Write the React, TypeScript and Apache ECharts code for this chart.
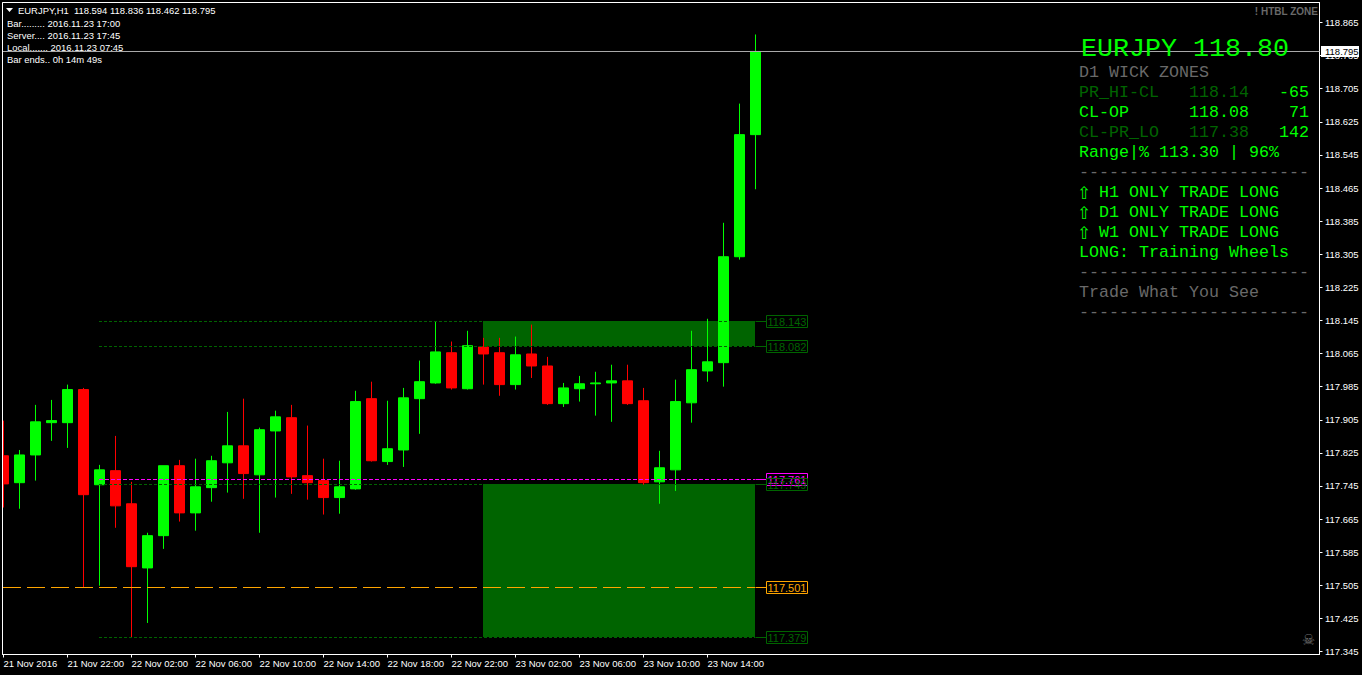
import React, { useEffect, useRef } from "react";
import * as echarts from "echarts";

// open, close, low, high of each hourly bar
const opens = [117.818,117.753,117.820,117.898,117.898,117.978,117.748,117.782,117.702,117.547,117.625,117.794,117.680,117.741,117.801,117.842,117.772,117.878,117.910,117.770,117.758,117.717,117.738,117.956,117.804,117.832,117.956,117.994,118.067,117.980,118.081,118.067,117.990,118.064,118.035,117.944,117.980,117.992,117.994,117.999,117.951,117.755,117.784,117.946,118.023,118.043,118.299,118.594];
const closes = [117.750,117.820,117.900,117.903,117.978,117.724,117.784,117.697,117.550,117.625,117.794,117.680,117.743,117.806,117.842,117.775,117.881,117.912,117.767,117.753,117.717,117.743,117.949,117.806,117.835,117.958,117.997,118.069,117.982,118.084,118.064,117.990,118.062,118.035,117.944,117.982,117.992,117.994,117.999,117.944,117.753,117.789,117.949,118.026,118.045,118.299,118.594,118.795];
const lows = [117.693,117.690,117.758,117.854,117.837,117.501,117.504,117.644,117.380,117.414,117.593,117.659,117.637,117.707,117.729,117.714,117.632,117.717,117.726,117.712,117.676,117.678,117.736,117.804,117.796,117.791,117.871,117.992,117.978,117.978,117.990,117.963,117.978,118.006,117.941,117.936,117.949,117.915,117.900,117.941,117.748,117.702,117.733,117.898,117.997,117.985,118.292,118.462];
const highs = [117.903,117.832,117.941,117.953,117.990,117.982,117.796,117.866,117.755,117.632,117.794,117.808,117.811,117.818,117.924,117.956,117.886,117.927,117.941,117.891,117.811,117.806,117.975,117.997,117.951,117.982,118.048,118.142,118.094,118.120,118.103,118.103,118.106,118.135,118.057,117.994,118.011,118.021,118.038,118.038,117.982,117.830,118.002,118.120,118.149,118.381,118.669,118.836];

const priceTicks = [117.345,117.425,117.505,117.585,117.665,117.745,117.825,117.905,117.985,118.065,118.145,118.225,118.305,118.385,118.465,118.545,118.625,118.705,118.785,118.865];
const timeTicks = [0,4,8,12,16,20,24,28,32,36,40,44];
const timeLabels = ["21 Nov 2016","21 Nov 22:00","22 Nov 02:00","22 Nov 06:00","22 Nov 10:00","22 Nov 14:00","22 Nov 18:00","22 Nov 22:00","23 Nov 02:00","23 Nov 06:00","23 Nov 10:00","23 Nov 14:00"];

const zoneFrom = 30;
const zoneTo = 47;
const zoneTops = [118.143, 117.749];
const zoneBottoms = [118.082, 117.379];

const levelValues = [118.143, 118.082, 117.761, 117.749, 117.501, 117.379];
const levelLabels = ["118.143", "118.082", "117.761", "117.749", "117.501", "117.379"];
const levelStarts = [6, 6, 6, 6, 0, 6];

const lastPrice = 118.795;
const lastPriceLabel = "118.795";

const headerLines = [
  "Bar......... 2016.11.23 17:00",
  "Server.... 2016.11.23 17:45",
  "Local....... 2016.11.23 07:45",
  "Bar ends.. 0h 14m 49s",
];
const headerTitle = "EURJPY,H1  118.594 118.836 118.462 118.795";
const zoneTag = "! HTBL ZONE";
const panelTitle = "EURJPY 118.80";
const panelRows = [
  { a: "D1 WICK ZONES", c: "#696969" },
  { a: "PR_HI-CL", b: "118.14", d: "-65", c: "#006400", e: "#00ff00" },
  { a: "CL-OP", b: "118.08", d: "71", c: "#00ff00", e: "#00ff00" },
  { a: "CL-PR_LO", b: "117.38", d: "142", c: "#006400", e: "#00ff00" },
  { a: "Range|% 113.30 | 96%", c: "#00ff00" },
  { a: "-----------------------", c: "#696969" },
  { a: "H1 ONLY TRADE LONG", c: "#00ff00", arrow: true },
  { a: "D1 ONLY TRADE LONG", c: "#00ff00", arrow: true },
  { a: "W1 ONLY TRADE LONG", c: "#00ff00", arrow: true },
  { a: "LONG: Training Wheels", c: "#00ff00" },
  { a: "-----------------------", c: "#696969" },
  { a: "Trade What You See", c: "#696969" },
  { a: "-----------------------", c: "#696969" },
];

const UI_FONT = '"Liberation Sans", Arial, sans-serif';
const MONO = '"Liberation Mono", monospace';
const levelColors = ["#006400", "#006400", "#ff00ff", "#006400", "#ffa500", "#006400"];
const levelDash = [[3, 2], [3, 2], [4, 2], [3, 2], [18, 6], [3, 2]];

const snapRow = (y: number) => Math.floor(y + 0.2);
const X_MIN = -0.0625;
const X_MAX = 82.25;

export default function App() {
  const ref = useRef<HTMLDivElement>(null);
  useEffect(() => {
    document.body.style.margin = "0";
    document.body.style.background = "#000";
    const chart = echarts.init(ref.current!, undefined, { renderer: "svg" });

    const graphicEls: any[] = [];
    const txt = (text: string, x: number, y: number, fill: string, fontFamily: string, fontSize: number, extra: any = {}) =>
      graphicEls.push({
        type: "text",
        z: 50,
        silent: true,
        style: { text, x, y, fill, fontFamily, fontSize, verticalAlign: "middle", align: "left", ...extra },
      });

    // the first bar is cut off by the chart's left edge
    graphicEls.push({ type: "rect", z: 40, silent: true, shape: { x: 0, y: 0, width: 2, height: 660 }, style: { fill: "#000" } });
    graphicEls.push({ type: "line", z: 41, silent: true, shape: { x1: 2.5, y1: 2.5, x2: 2.5, y2: 654.5 }, style: { stroke: "#fff", lineWidth: 1 } });

    graphicEls.push({
      type: "polygon",
      z: 50,
      shape: { points: [[6, 8], [13, 8], [9.5, 12]] },
      style: { fill: "#fff" },
    });
    txt(headerTitle, 18, 10.5, "#fff", UI_FONT, 9.45);
    headerLines.forEach((l, i) => txt(l, 7, 23.5 + i * 12, "#fff", UI_FONT, 9.45));
    txt(zoneTag, 1318, 11, "#696969", UI_FONT, 10, { align: "right", fontWeight: "bold" });
    txt(panelTitle, 1081, 48.5, "#00ff00", MONO, 26.67);
    panelRows.forEach((r: any, i) => {
      const y = 72.5 + i * 20;
      const x = r.arrow ? 1099 : 1079;
      if (r.arrow) txt("\u21E7", 1077, y, r.c, '"DejaVu Sans"', 17);
      txt(r.a, x, y, r.c, MONO, 16.67);
      if (r.b) txt(r.b, 1189, y, r.c, MONO, 16.67);
      if (r.d) txt(r.d, 1309, y, r.e, MONO, 16.67, { align: "right" });
    });
    txt("\u2620", 1308.5, 640, "#707070", '"DejaVu Sans"', 15, { align: "center" });

    const candleRows = opens.map((o, i) => [i, o, closes[i], lows[i], highs[i]]);

    chart.setOption({
      animation: false,
      backgroundColor: "#000",
      grid: {
        left: 2.5,
        top: 2.5,
        right: 42.5,
        bottom: 20.5,
        show: true,
        borderColor: "#fff",
        borderWidth: 1,
        backgroundColor: "#000",
        containLabel: false,
      },
      xAxis: {
        type: "value",
        min: X_MIN,
        max: X_MAX,
        splitLine: { show: false },
        axisLine: { show: true, onZero: false, lineStyle: { color: "#fff", width: 1 } },
        axisTick: { show: true, length: 3, lineStyle: { color: "#fff" }, customValues: timeTicks },
        axisLabel: {
          show: true,
          color: "#fff",
          fontFamily: UI_FONT,
          fontSize: 9.5,
          align: "left",
          margin: 4,
          customValues: timeTicks,
          formatter: (v: number) => timeLabels[timeTicks.indexOf(Math.round(v))] ?? "",
        },
      },
      yAxis: {
        type: "value",
        position: "right",
        min: 117.3378,
        max: 118.9133,
        splitLine: { show: false },
        axisLine: { show: true, onZero: false, lineStyle: { color: "#fff", width: 1 } },
        axisTick: { show: true, length: 3, lineStyle: { color: "#fff" }, customValues: priceTicks },
        axisLabel: {
          show: true,
          color: "#fff",
          fontFamily: UI_FONT,
          fontSize: 9.5,
          margin: 5.5,
          customValues: priceTicks,
          formatter: (v: number) => v.toFixed(3),
        },
      },
      graphic: { elements: graphicEls },
      series: [
        {
          type: "custom",
          name: "zones",
          z: 1,
          silent: true,
          clip: false,
          data: zoneTops.map((t, i) => [zoneFrom, zoneTo, t, zoneBottoms[i]]),
          encode: { x: [0, 1], y: [2, 3] },
          renderItem: (_p: any, api: any) => {
            const a = api.coord([api.value(0), api.value(2)]);
            const b = api.coord([api.value(1), api.value(3)]);
            const top = snapRow(a[1]);
            const bottom = snapRow(b[1]);
            return {
              type: "rect",
              shape: { x: a[0] - 0.5, y: top, width: b[0] - a[0], height: bottom - top },
              style: { fill: "#006400" },
            };
          },
        },
        {
          type: "candlestick",
          name: "EURJPY,H1",
          z: 2,
          barWidth: 10,
          itemStyle: {
            color: "#00ff00",
            color0: "#ff0000",
            borderColor: "#00ff00",
            borderColor0: "#ff0000",
            borderWidth: 1,
          },
          data: candleRows,
        },
        {
          type: "custom",
          name: "levels",
          z: 4,
          silent: true,
          clip: false,
          data: levelValues.map((v, i) => [levelStarts[i], zoneTo, v, i]),
          encode: { x: [0, 1], y: 2 },
          renderItem: (_p: any, api: any) => {
            const i = api.value(3);
            const a = api.coord([api.value(0), api.value(2)]);
            const b = api.coord([api.value(1), api.value(2)]);
            const y = snapRow(a[1]) + 0.5;
            return {
              type: "line",
              shape: { x1: a[0] - 0.5, y1: y, x2: b[0], y2: y },
              style: { stroke: levelColors[i], lineWidth: 1, lineDash: levelDash[i] },
            };
          },
        },
        {
          type: "custom",
          name: "last",
          z: 5,
          silent: true,
          clip: false,
          data: [[X_MIN, X_MAX, lastPrice]],
          encode: { x: [0, 1], y: 2 },
          renderItem: (_p: any, api: any) => {
            const a = api.coord([api.value(0), api.value(2)]);
            const b = api.coord([api.value(1), api.value(2)]);
            const y = snapRow(a[1]) + 0.5;
            return {
              type: "line",
              shape: { x1: a[0], y1: y, x2: b[0], y2: y },
              style: { stroke: "#a9a9a9", lineWidth: 1 },
            };
          },
        },
        {
          type: "custom",
          name: "tags",
          z: 6,
          silent: true,
          clip: false,
          data: levelValues.map((v, i) => [zoneTo, v, i]),
          encode: { x: 0, y: 1 },
          renderItem: (_p: any, api: any) => {
            const i = api.value(2);
            const p = api.coord([api.value(0), api.value(1)]);
            const color = levelColors[i];
            const y = snapRow(p[1]) + 0.5;
            const x = Math.floor(p[0]) + 0.5;
            return {
              type: "group",
              children: [
                { type: "line", shape: { x1: x + 0.5, y1: y, x2: x + 11, y2: y }, style: { stroke: color, lineWidth: 1 } },
                { type: "rect", shape: { x: x + 11, y: y - 6, width: 41, height: 12 }, style: { fill: "rgba(0,0,0,0)", stroke: color, lineWidth: 1 } },
                { type: "text", style: { text: levelLabels[i], x: x + 31.5, y: y + 0.5, fill: color, fontFamily: UI_FONT, fontSize: 11, align: "center", verticalAlign: "middle" } },
              ],
            };
          },
        },
        {
          type: "custom",
          name: "lastTag",
          z: 7,
          silent: true,
          clip: false,
          data: [[X_MAX, lastPrice]],
          encode: { x: 0, y: 1 },
          renderItem: (_p: any, api: any) => {
            const p = api.coord([api.value(0), api.value(1)]);
            const y = snapRow(p[1]) + 0.5;
            return {
              type: "group",
              children: [
                { type: "rect", shape: { x: p[0] + 1.5, y: y - 5.5, width: 38, height: 11 }, style: { fill: "#fff" } },
                { type: "text", style: { text: lastPriceLabel, x: p[0] + 5.5, y, fill: "#000", fontFamily: UI_FONT, fontSize: 9.5, align: "left", verticalAlign: "middle" } },
              ],
            };
          },
        },
      ],
    });
    return () => chart.dispose();
  }, []);
  return <div ref={ref} style={{ position: "fixed", left: 0, top: 0, width: 1362, height: 675, background: "#000" }} />;
}
